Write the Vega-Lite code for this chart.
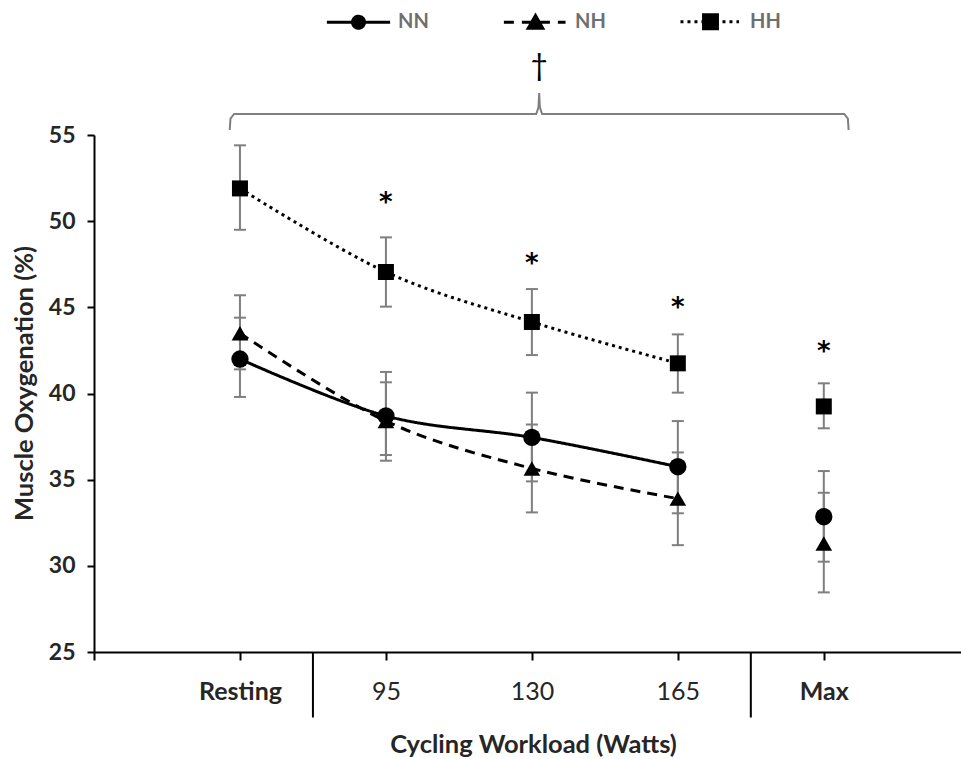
{
  "$schema": "https://vega.github.io/schema/vega-lite/v6.json",
  "width": 867,
  "height": 517,
  "autosize": {"type": "none"},
  "padding": {"left": 94, "top": 135, "right": 0, "bottom": 107},
  "background": "white",
  "config": {"view": {"stroke": null}, "font": "Lato", "axis": {"grid": false}},
  "resolve": {"scale": {"shape": "independent", "strokeDash": "independent"}},
  "datasets": {
    "main": [
      {"group": "NN", "stage": "Resting", "pos": 1, "val": 42.0, "lo": 39.8, "hi": 44.4},
      {"group": "NN", "stage": "95", "pos": 2, "val": 38.7, "lo": 36.1, "hi": 41.25},
      {"group": "NN", "stage": "130", "pos": 3, "val": 37.45, "lo": 34.9, "hi": 40.05},
      {"group": "NN", "stage": "165", "pos": 4, "val": 35.75, "lo": 33.05, "hi": 38.4},
      {"group": "NN", "stage": "Max", "pos": 5, "val": 32.85, "lo": 30.24, "hi": 35.5},
      {"group": "NH", "stage": "Resting", "pos": 1, "val": 43.5, "lo": 41.4, "hi": 45.7},
      {"group": "NH", "stage": "95", "pos": 2, "val": 38.4, "lo": 36.43, "hi": 40.65},
      {"group": "NH", "stage": "130", "pos": 3, "val": 35.65, "lo": 33.1, "hi": 38.2},
      {"group": "NH", "stage": "165", "pos": 4, "val": 33.9, "lo": 31.2, "hi": 36.58},
      {"group": "NH", "stage": "Max", "pos": 5, "val": 31.3, "lo": 28.46, "hi": 34.24},
      {"group": "HH", "stage": "Resting", "pos": 1, "val": 51.9, "lo": 49.5, "hi": 54.4},
      {"group": "HH", "stage": "95", "pos": 2, "val": 47.05, "lo": 45.04, "hi": 49.06},
      {"group": "HH", "stage": "130", "pos": 3, "val": 44.15, "lo": 42.23, "hi": 46.06},
      {"group": "HH", "stage": "165", "pos": 4, "val": 41.75, "lo": 40.05, "hi": 43.43},
      {"group": "HH", "stage": "Max", "pos": 5, "val": 39.25, "lo": 37.98, "hi": 40.59}
    ],
    "sig": [
      {"pos": 2, "val": 51.5, "label": "*"},
      {"pos": 3, "val": 48.0, "label": "*"},
      {"pos": 4, "val": 45.4, "label": "*"},
      {"pos": 5, "val": 42.85, "label": "*"}
    ],
    "dividers": [{"pos": 1.5}, {"pos": 4.5}],
    "bracket": [
      {"i": 0, "pos": 0.93, "val": 55.29},
      {"i": 1, "pos": 0.935, "val": 55.95},
      {"i": 2, "pos": 0.96, "val": 56.22},
      {"i": 3, "pos": 3.03, "val": 56.22},
      {"i": 4, "pos": 3.045, "val": 56.6},
      {"i": 5, "pos": 3.05, "val": 57.44},
      {"i": 6, "pos": 3.055, "val": 56.6},
      {"i": 7, "pos": 3.07, "val": 56.22},
      {"i": 8, "pos": 5.14, "val": 56.22},
      {"i": 9, "pos": 5.165, "val": 55.95},
      {"i": 10, "pos": 5.17, "val": 55.29}
    ],
    "dagger": [{"pos": 3.05, "val": 58.95, "label": "†"}]
  },
  "layer": [
    {
      "data": {"name": "dividers"},
      "mark": {"type": "rule", "color": "black", "strokeWidth": 2},
      "encoding": {
        "x": {
          "field": "pos", "type": "quantitative",
          "scale": {"domain": [0, 5.94], "nice": false, "zero": false},
          "axis": {
            "title": "Cycling Workload (Watts)",
            "values": [0, 1, 2, 3, 4, 5],
            "labelExpr": "datum.value==1?'Resting':datum.value==2?'95':datum.value==3?'130':datum.value==4?'165':datum.value==5?'Max':''",
            "labelFontSize": 25,
            "labelFontWeight": {"condition": {"test": "datum.value==1||datum.value==5", "value": "bold"}, "value": "normal"},
            "labelColor": "#262626",
            "labelPadding": 19,
            "labelFlush": false,
            "labelOverlap": false,
            "tickSize": 8, "tickWidth": 2, "tickColor": "black",
            "domainColor": "black", "domainWidth": 2,
            "titleFontSize": 25.5, "titleFontWeight": "bold", "titleColor": "#262626",
            "titleX": 439, "titleY": 100, "titleBaseline": "alphabetic", "titleAlign": "center"
          }
        },
        "y": {
          "datum": 25, "type": "quantitative",
          "scale": {"domain": [25, 55], "nice": false, "zero": false},
          "axis": {
            "title": "Muscle Oxygenation (%)",
            "values": [25, 30, 35, 40, 45, 50, 55],
            "labelFontSize": 23, "labelFontWeight": "bold", "labelColor": "#262626",
            "labelPadding": 12, "labelFlush": false,
            "tickSize": 7, "tickWidth": 2, "tickColor": "black",
            "domainColor": "black", "domainWidth": 2,
            "titleFontSize": 25.5, "titleFontWeight": "bold", "titleColor": "#262626",
            "titleX": -70, "titleY": 248, "titleAngle": 270, "titleAlign": "center", "titleBaseline": "middle"
          }
        },
        "y2": {"datum": 21.2}
      }
    },
    {
      "data": {"name": "main"},
      "mark": {"type": "rule", "color": "#7f7f7f", "strokeWidth": 2},
      "encoding": {
        "x": {"field": "pos", "type": "quantitative"},
        "y": {"field": "lo", "type": "quantitative"},
        "y2": {"field": "hi"}
      }
    },
    {
      "data": {"name": "main"},
      "mark": {"type": "tick", "orient": "horizontal", "color": "#7f7f7f", "size": 12, "thickness": 2, "opacity": 1},
      "encoding": {
        "x": {"field": "pos", "type": "quantitative"},
        "y": {"field": "lo", "type": "quantitative"}
      }
    },
    {
      "data": {"name": "main"},
      "mark": {"type": "tick", "orient": "horizontal", "color": "#7f7f7f", "size": 12, "thickness": 2, "opacity": 1},
      "encoding": {
        "x": {"field": "pos", "type": "quantitative"},
        "y": {"field": "hi", "type": "quantitative"}
      }
    },
    {
      "data": {"name": "main"},
      "transform": [{"filter": "datum.pos <= 4"}],
      "mark": {"type": "line", "color": "black", "strokeWidth": 3, "interpolate": "cardinal"},
      "encoding": {
        "x": {"field": "pos", "type": "quantitative"},
        "y": {"field": "val", "type": "quantitative"},
        "detail": {"field": "group"},
        "strokeDash": {
          "field": "group", "type": "nominal",
          "scale": {"domain": ["HH", "NH", "NN"], "range": [[3, 4], [10, 7], [1, 0]]},
          "legend": null
        }
      }
    },
    {
      "data": {"name": "main"},
      "mark": {"type": "point", "filled": true, "color": "black", "opacity": 1},
      "encoding": {
        "x": {"field": "pos", "type": "quantitative"},
        "y": {"field": "val", "type": "quantitative"},
        "size": {
          "field": "group", "type": "nominal",
          "scale": {"domain": ["HH", "NH", "NN"], "range": [256, 300, 196]},
          "legend": null
        },
        "shape": {
          "field": "group", "type": "nominal",
          "scale": {"domain": ["HH", "NH", "NN"], "range": ["square", "triangle-up", "circle"]},
          "legend": null
        }
      }
    },
    {
      "data": {"name": "main"},
      "transform": [{"filter": "false"}],
      "mark": {"type": "point", "filled": false, "fill": "black", "stroke": "black", "strokeWidth": 3, "opacity": 1},
      "encoding": {
        "x": {"field": "pos", "type": "quantitative"},
        "y": {"field": "val", "type": "quantitative"},
        "shape": {
          "field": "group", "type": "nominal",
          "scale": {
            "domain": ["NN", "NH", "HH"],
            "range": [
              "M-1,0L1,0M-0.19,0A0.19,0.19 0 1,0 0.19,0A0.19,0.19 0 1,0 -0.19,0Z",
              "M-1,0L0.95,0M0,-0.21L0.23,0.19L-0.23,0.19Z M0.143,0.038L0.23,0.19L-0.23,0.19L0,-0.21Z",
              "M-0.95,0L0.9,0M-0.22,-0.22L0.22,-0.22L0.22,0.22L-0.22,0.22Z M-0.125,-0.22L0.22,-0.22L0.22,0.22L-0.22,0.22L-0.22,-0.22Z M-0.03,-0.22L0.22,-0.22L0.22,0.22L-0.22,0.22L-0.22,-0.22Z"
            ]
          },
          "legend": {
            "orient": "none", "legendX": 231, "legendY": -147,
            "direction": "horizontal", "title": null,
            "symbolSize": 4000, "symbolStrokeWidth": 3, "symbolOpacity": 1,
            "labelFontSize": 20, "labelFont": "Lato", "labelFontWeight": "bold", "labelColor": "#6f6f6f",
            "labelOffset": 6, "columnPadding": 68
          }
        },
        "strokeDash": {
          "field": "group", "type": "nominal",
          "scale": {"domain": ["NN", "NH", "HH"], "range": [[1, 0], [10, 8], [3, 4]]}
        }
      }
    },
    {
      "data": {"name": "sig"},
      "mark": {"type": "text", "font": "DejaVu Sans", "fontSize": 26, "fontWeight": "bold", "color": "black", "baseline": "middle", "dy": 8},
      "encoding": {
        "x": {"field": "pos", "type": "quantitative"},
        "y": {"field": "val", "type": "quantitative"},
        "text": {"field": "label"}
      }
    },
    {
      "data": {"name": "bracket"},
      "mark": {"type": "line", "color": "#7f7f7f", "strokeWidth": 2},
      "encoding": {
        "x": {"field": "pos", "type": "quantitative"},
        "y": {"field": "val", "type": "quantitative"},
        "order": {"field": "i"}
      }
    },
    {
      "data": {"name": "dagger"},
      "mark": {"type": "text", "fontSize": 30, "color": "black", "baseline": "middle"},
      "encoding": {
        "x": {"field": "pos", "type": "quantitative"},
        "y": {"field": "val", "type": "quantitative"},
        "text": {"field": "label"}
      }
    }
  ]
}
